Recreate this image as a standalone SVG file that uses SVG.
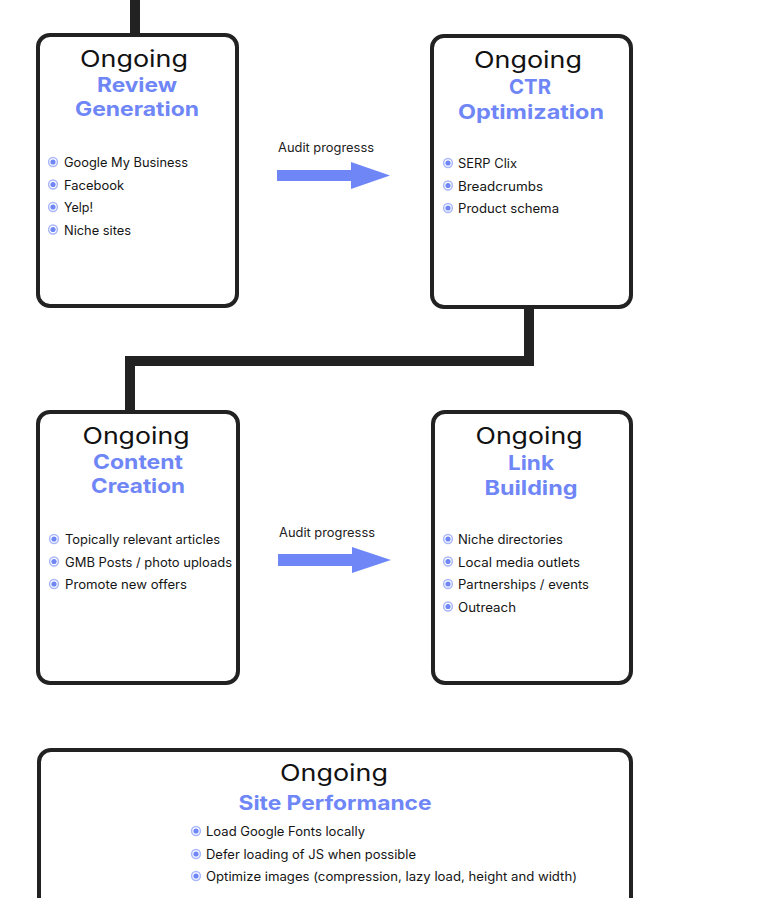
<svg xmlns="http://www.w3.org/2000/svg" width="773" height="898" viewBox="0 0 773 898">
<style>
  text { font-family: Inter, "Noto Sans", "DejaVu Sans", sans-serif; fill: #111; }
  .box { fill: #fff; stroke: #222; stroke-width: 4; }
  .og { font-size: 23px; font-weight: 400; text-anchor: middle; }
  .tt { font-size: 20px; font-weight: 700; fill: #6f86f7; text-anchor: middle; }
  .it { font-size: 12.5px; font-weight: 400; fill: #151515; }
  .lbl { font-size: 12.5px; font-weight: 400; fill: #222; }
  .conn { fill: none; stroke: #222; stroke-width: 10; stroke-linejoin: miter; }
  .arrow { fill: #6f86f7; }
  .bo { fill: none; stroke: #a9b7fb; stroke-width: 1.5; }
  .bi { fill: #6f86f7; }
</style>
<defs>
  <g id="bullet"><circle class="bo" cx="0" cy="0" r="4.4"/><circle class="bi" cx="0" cy="0" r="2.6"/></g>
</defs>
<rect width="773" height="898" fill="#fff"/>
<g id="connectors">
  <path class="conn" d="M135 0 V36"/>
  <path class="conn" d="M529 306 V361 H130 V413"/>
  <polygon class="arrow" points="277,170 351,170 351,162 390,175.5 351,189 351,181 277,181"/>
  <text class="lbl" x="278" y="152" textLength="96" lengthAdjust="spacingAndGlyphs">Audit progresss</text>
  <polygon class="arrow" points="278,554 352,554 352,547 391,560 352,573 352,566 278,566"/>
  <text class="lbl" x="279" y="537" textLength="96" lengthAdjust="spacingAndGlyphs">Audit progresss</text>
</g>
<g id="review">
  <rect class="box" x="38" y="35" width="199" height="271" rx="12"/>
  <text class="og" x="134" y="67" textLength="108" lengthAdjust="spacingAndGlyphs">Ongoing</text>
  <text class="tt" x="137" y="92" textLength="80" lengthAdjust="spacingAndGlyphs">Review</text>
  <text class="tt" x="137" y="116" textLength="124" lengthAdjust="spacingAndGlyphs">Generation</text>
  <use href="#bullet" x="53" y="162"/><text class="it" x="64" y="167" textLength="124" lengthAdjust="spacingAndGlyphs">Google My Business</text>
  <use href="#bullet" x="53" y="184.5"/><text class="it" x="64" y="189.5" textLength="60" lengthAdjust="spacingAndGlyphs">Facebook</text>
  <use href="#bullet" x="53" y="207"/><text class="it" x="64" y="212" textLength="29" lengthAdjust="spacingAndGlyphs">Yelp!</text>
  <use href="#bullet" x="53" y="229.5"/><text class="it" x="64" y="234.5" textLength="67" lengthAdjust="spacingAndGlyphs">Niche sites</text>
</g>
<g id="ctr">
  <rect class="box" x="432" y="36" width="199" height="271" rx="12"/>
  <text class="og" x="528" y="68" textLength="108" lengthAdjust="spacingAndGlyphs">Ongoing</text>
  <text class="tt" x="530" y="94" textLength="42" lengthAdjust="spacingAndGlyphs">CTR</text>
  <text class="tt" x="531" y="119" textLength="146" lengthAdjust="spacingAndGlyphs">Optimization</text>
  <use href="#bullet" x="448" y="163"/><text class="it" x="458" y="168" textLength="59" lengthAdjust="spacingAndGlyphs">SERP Clix</text>
  <use href="#bullet" x="448" y="185.5"/><text class="it" x="458" y="190.5" textLength="85" lengthAdjust="spacingAndGlyphs">Breadcrumbs</text>
  <use href="#bullet" x="448" y="208"/><text class="it" x="458" y="213" textLength="101" lengthAdjust="spacingAndGlyphs">Product schema</text>
</g>
<g id="content">
  <rect class="box" x="38" y="412" width="200" height="271" rx="12"/>
  <text class="og" x="136" y="444" textLength="107" lengthAdjust="spacingAndGlyphs">Ongoing</text>
  <text class="tt" x="138" y="469" textLength="90" lengthAdjust="spacingAndGlyphs">Content</text>
  <text class="tt" x="138" y="493" textLength="94" lengthAdjust="spacingAndGlyphs">Creation</text>
  <use href="#bullet" x="54" y="539"/><text class="it" x="65" y="544" textLength="155" lengthAdjust="spacingAndGlyphs">Topically relevant articles</text>
  <use href="#bullet" x="54" y="561.5"/><text class="it" x="65" y="566.5" textLength="167" lengthAdjust="spacingAndGlyphs">GMB Posts / photo uploads</text>
  <use href="#bullet" x="54" y="584"/><text class="it" x="65" y="589" textLength="122" lengthAdjust="spacingAndGlyphs">Promote new offers</text>
</g>
<g id="link">
  <rect class="box" x="433" y="412" width="198" height="271" rx="12"/>
  <text class="og" x="529" y="444" textLength="107" lengthAdjust="spacingAndGlyphs">Ongoing</text>
  <text class="tt" x="531" y="470" textLength="46" lengthAdjust="spacingAndGlyphs">Link</text>
  <text class="tt" x="531" y="495" textLength="93" lengthAdjust="spacingAndGlyphs">Building</text>
  <use href="#bullet" x="448" y="539"/><text class="it" x="458" y="544" textLength="105" lengthAdjust="spacingAndGlyphs">Niche directories</text>
  <use href="#bullet" x="448" y="561.5"/><text class="it" x="458" y="566.5" textLength="122" lengthAdjust="spacingAndGlyphs">Local media outlets</text>
  <use href="#bullet" x="448" y="584"/><text class="it" x="458" y="589" textLength="131" lengthAdjust="spacingAndGlyphs">Partnerships / events</text>
  <use href="#bullet" x="448" y="606.5"/><text class="it" x="458" y="611.5" textLength="58" lengthAdjust="spacingAndGlyphs">Outreach</text>
</g>
<g id="site">
  <rect class="box" x="39" y="750" width="592" height="170" rx="12"/>
  <text class="og" x="334" y="781" textLength="108" lengthAdjust="spacingAndGlyphs">Ongoing</text>
  <text class="tt" x="335" y="810" textLength="193" lengthAdjust="spacingAndGlyphs">Site Performance</text>
  <use href="#bullet" x="196" y="831"/><text class="it" x="206" y="836" textLength="159" lengthAdjust="spacingAndGlyphs">Load Google Fonts locally</text>
  <use href="#bullet" x="196" y="854"/><text class="it" x="206" y="859" textLength="210" lengthAdjust="spacingAndGlyphs">Defer loading of JS when possible</text>
  <use href="#bullet" x="196" y="876"/><text class="it" x="206" y="881" textLength="371" lengthAdjust="spacingAndGlyphs">Optimize images (compression, lazy load, height and width)</text>
</g>
</svg>
